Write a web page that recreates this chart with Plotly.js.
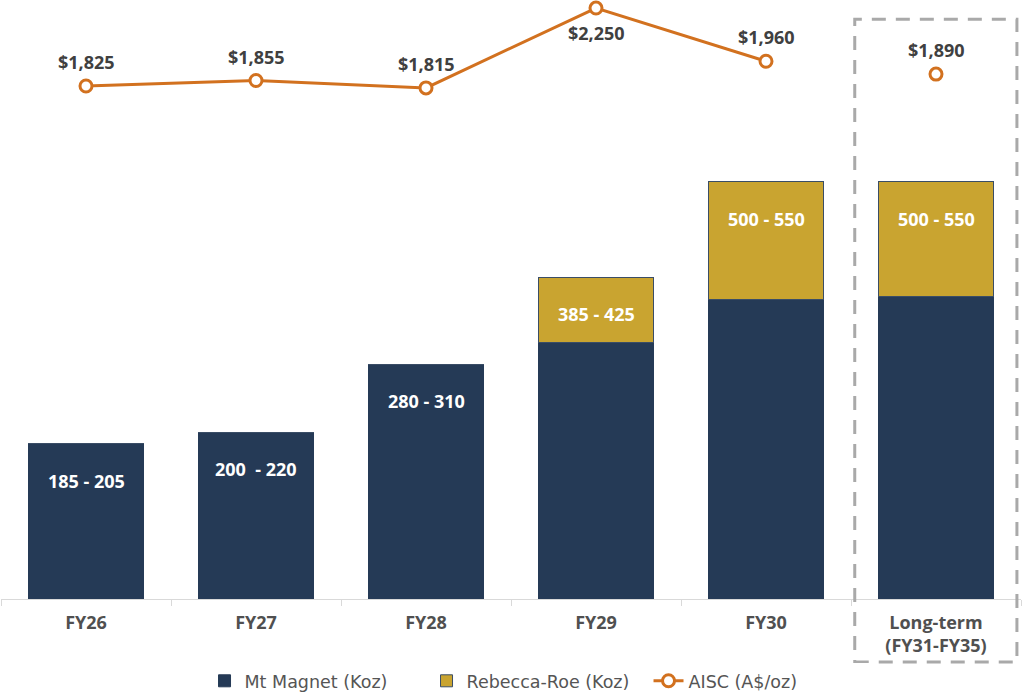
<!DOCTYPE html>
<html>
<head>
<meta charset="utf-8">
<script src="https://cdn.plot.ly/plotly-3.0.1.min.js"></script>
<style>
html,body{margin:0;padding:0;background:#fff;}
#chart{width:1024px;height:692px;}
</style>
</head>
<body>
<div id="chart"></div>
<script>
// ---- data ----
const categories = ['FY26', 'FY27', 'FY28', 'FY29', 'FY30', 'Long-term<br>(FY31-FY35)'];
const mtMagnet = [195, 210, 295, 323, 377, 380];
const rebeccaRoe = [0, 0, 0, 82, 148, 145];
const rangeLabels = ['185 - 205', '200  - 220', '280 - 310', '385 - 425', '500 - 550', '500 - 550'];
const aisc = [1825, 1855, 1815, 2250, 1960, 1890];
const aiscLabels = ['$1,825', '$1,855', '$1,815', '$2,250', '$1,960', '$1,890'];

const NAVY = '#253a56';
const GOLD = '#c9a430';
const ORANGE = '#d2711f';
const FONT = '"Open Sans", Lato, sans-serif';
const LEGFONT = '"DejaVu Sans", "Open Sans", sans-serif';

const traces = [
  {
    type: 'bar', name: 'Mt Magnet (Koz)', x: categories, y: mtMagnet,
    marker: {color: NAVY, line: {color: NAVY, width: 1}},
    hoverinfo: 'skip'
  },
  {
    type: 'bar', name: 'Rebecca-Roe (Koz)', x: categories, y: rebeccaRoe,
    marker: {color: GOLD, line: {color: '#3a4d66', width: 1}},
    hoverinfo: 'skip'
  },
  {
    type: 'scatter', mode: 'lines+markers', name: 'AISC (A$/oz)',
    x: categories.slice(0, 5), y: aisc.slice(0, 5), yaxis: 'y2',
    line: {color: ORANGE, width: 3},
    marker: {symbol: 'circle', size: 12, color: '#ffffff', line: {color: ORANGE, width: 3}},
    cliponaxis: false, hoverinfo: 'skip'
  },
  {
    type: 'scatter', mode: 'markers', name: 'AISC (A$/oz)', showlegend: false,
    x: categories.slice(5), y: aisc.slice(5), yaxis: 'y2',
    marker: {symbol: 'circle', size: 12, color: '#ffffff', line: {color: ORANGE, width: 3}},
    cliponaxis: false, hoverinfo: 'skip'
  }
];

const annotations = [];
const maxA = Math.max(...aisc);
categories.forEach((c, i) => {
  annotations.push({
    x: c, y: mtMagnet[i] + rebeccaRoe[i], xref: 'x', yref: 'y',
    text: rangeLabels[i], showarrow: false, yshift: -37, yanchor: 'middle',
    font: {family: FONT, size: 18, color: '#ffffff', weight: 700}
  });
  annotations.push({
    x: c, y: aisc[i], xref: 'x', yref: 'y2',
    text: aiscLabels[i], showarrow: false, yshift: aisc[i] === maxA ? -25 : 24, yanchor: 'middle',
    font: {family: FONT, size: 18, color: '#404040', weight: 700}
  });
});

const layout = {
  width: 1024, height: 692,
  margin: {l: 1, r: 3, t: 0, b: 93},
  paper_bgcolor: '#ffffff', plot_bgcolor: '#ffffff',
  barmode: 'stack', bargap: 0.32,
  showlegend: true,
  legend: {
    orientation: 'h', x: 0.526, xanchor: 'center',
    yref: 'container', y: 0.016, yanchor: 'middle',
    font: {family: LEGFONT, size: 17.5, color: '#555555'}, traceorder: 'normal',
    itemwidth: 30, entrywidth: 177, entrywidthmode: 'pixels'
  },
  xaxis: {
    type: 'category', showgrid: false, zeroline: false,
    showline: true, linecolor: '#d9d9d9', linewidth: 1,
    ticks: 'outside', tickson: 'boundaries', ticklen: 6, tickcolor: '#d9d9d9',
    ticklabelstandoff: 7,
    tickfont: {family: FONT, size: 18, color: '#505050', weight: 700},
    fixedrange: true
  },
  yaxis: {range: [0, 753.5], visible: false, showgrid: false, zeroline: false, fixedrange: true},
  yaxis2: {range: [-971, 2294], overlaying: 'y', side: 'right', visible: false, showgrid: false, zeroline: false, fixedrange: true},
  annotations: annotations,
  shapes: [{
    type: 'rect', xref: 'paper', yref: 'paper',
    x0: 0.837, x1: 0.996, y0: -0.105, y1: 0.968,
    line: {color: '#a9a9a9', width: 3, dash: '14px,10px'},
    fillcolor: 'rgba(0,0,0,0)', layer: 'above'
  }]
};

Plotly.newPlot('chart', traces, layout, {displayModeBar: false, staticPlot: true});
</script>
</body>
</html>
